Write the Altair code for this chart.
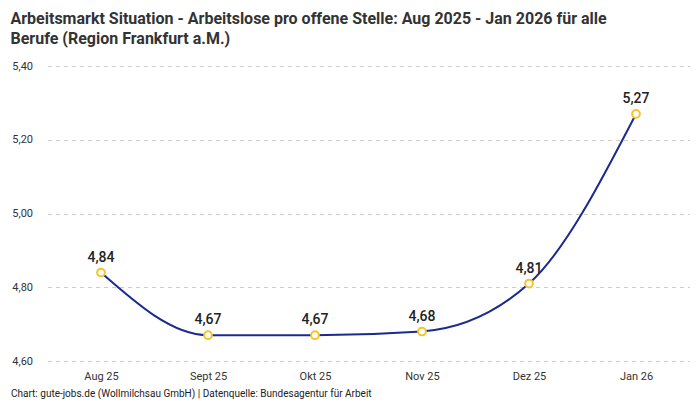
import pandas as pd
import altair as alt

# Data
months = ["Aug 25", "Sept 25", "Okt 25", "Nov 25", "Dez 25", "Jan 26"]
ratio = [4.84, 4.67, 4.67, 4.68, 4.81, 5.27]
y_ticks = [4.6, 4.8, 5.0, 5.2, 5.4]

title_lines = [
    "Arbeitsmarkt Situation - Arbeitslose pro offene Stelle: Aug 2025 - Jan 2026 für alle",
    "Berufe (Region Frankfurt a.M.)",
]
footer = "Chart: gute-jobs.de (Wollmilchsau GmbH) | Datenquelle: Bundesagentur für Arbeit"

FONT = "Roboto"
W, H = 642, 295

df = pd.DataFrame({"month": months, "value": ratio})

base = alt.Chart(df).transform_calculate(
    label="replace(format(datum.value, '.2f'), '.', ',')"
)

x_enc = alt.X(
    "month:N",
    sort=months,
    scale=alt.Scale(type="point", padding=0.5),
    axis=alt.Axis(
        title=footer,
        titleAnchor="start",
        titleBaseline="top",
        titleX=-37,
        titleY=27,
        titleFontSize=10,
        titleFontWeight="normal",
        titleColor="#222",
        titleFont=FONT,
        labelAngle=0,
        labelPadding=9,
        labelFontSize=11,
        labelColor="#333",
        labelFont=FONT,
        domain=False,
        ticks=False,
        grid=False,
    ),
)

y_enc = alt.Y(
    "value:Q",
    scale=alt.Scale(domain=[4.6, 5.4], nice=False, zero=False),
    axis=alt.Axis(
        title=None,
        values=y_ticks,
        labelExpr="replace(format(datum.value, '.2f'), '.', ',')",
        labelFontSize=11,
        labelColor="#333",
        labelFont=FONT,
        labelPadding=15,
        domain=False,
        ticks=False,
        grid=True,
        gridDash=[4, 4],
        gridColor="#cccccc",
        gridWidth=1,
    ),
)

line = base.mark_line(
    interpolate="monotone", color="#1b2a8f", strokeWidth=2
).encode(x=x_enc, y=y_enc)

points = base.mark_point(
    shape="circle", size=60, filled=False, fill="white",
    stroke="#f7c325", strokeWidth=2, opacity=1
).encode(x=x_enc, y=y_enc)

labels = base.mark_text(
    dy=-15, fontSize=14, fontWeight=500, color="#222", font=FONT
).encode(x=x_enc, y=y_enc, text="label:N")

chart = (
    (line + points + labels)
    .properties(
        width=W,
        height=H,
        autosize=alt.AutoSizeParams(type="none"),
        padding={"left": 39.5, "top": 58, "right": 2, "bottom": 44},
        title=alt.TitleParams(
            text=title_lines,
            anchor="start",
            frame="bounds",
            fontSize=16,
            fontWeight="bold",
            color="#333",
            font=FONT,
            lineHeight=20,
            offset=10,
            dy=-3,
        ),
    )
    .configure_view(stroke=None)
)

chart.save("out.html", embed_options={"renderer": "svg", "actions": False})
